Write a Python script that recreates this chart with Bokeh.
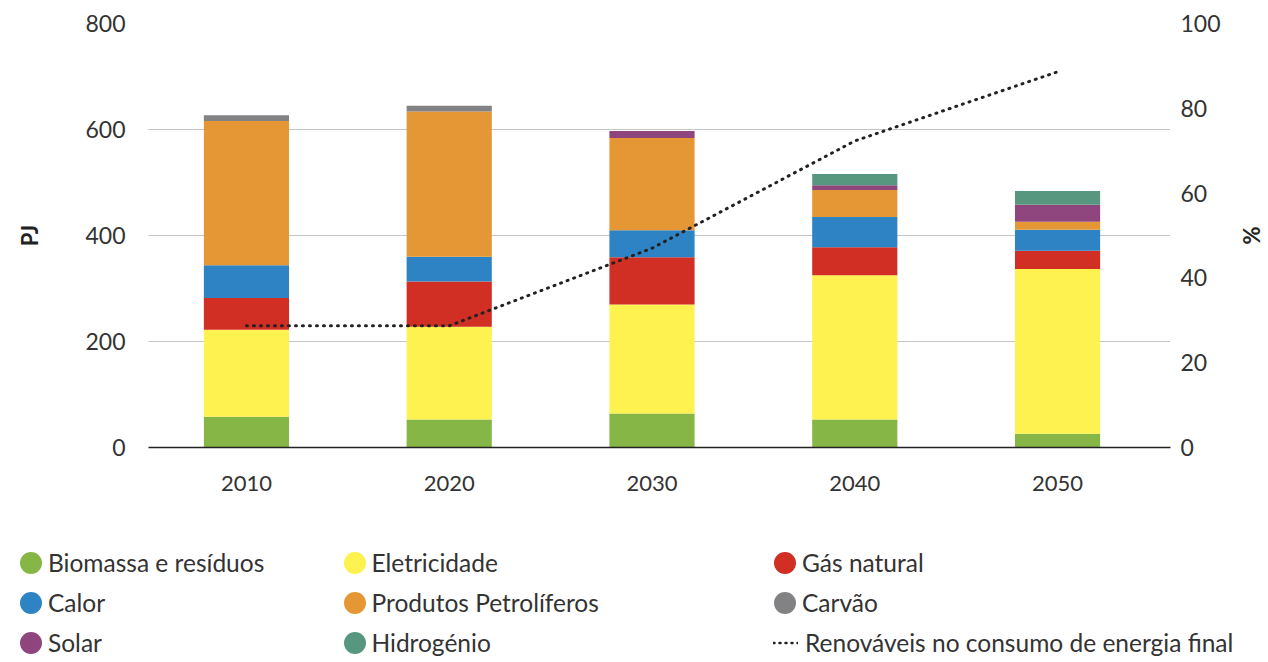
from bokeh.plotting import figure
from bokeh.layouts import column, row
from bokeh.models import (ColumnDataSource, Range1d, LinearAxis, FixedTicker,
                          Legend, LegendItem)
from bokeh.embed import file_html
from bokeh.resources import INLINE

# ---- data ----
years = [2010, 2020, 2030, 2040, 2050]
biomassa = [58, 53, 64, 53, 26]
eletricidade = [164, 175, 206, 272, 311]
gas_natural = [60, 85, 89, 53, 34]
calor = [62, 47, 51, 57, 40]
petroliferos = [272, 274, 174, 51, 15]
carvao = [11, 11, 0, 0, 0]
solar = [0, 0, 13, 9, 32]
hidrogenio = [0, 0, 0, 21, 26]
renovaveis = [28.7, 28.7, 47.0, 72.3, 88.6]

series = ["biomassa", "eletricidade", "gas_natural", "calor",
          "petroliferos", "carvao", "solar", "hidrogenio"]
labels = ["Biomassa e resíduos", "Eletricidade", "Gás natural", "Calor",
          "Produtos Petrolíferos", "Carvão", "Solar", "Hidrogénio"]
colors = ["#86b645", "#fdf24f", "#d12e24", "#2e83c4",
          "#e59735", "#828284", "#8f457d", "#57977f"]
line_label = "Renováveis no consumo de energia final"
left_ticks = [0, 200, 400, 600, 800]
right_ticks = [0, 20, 40, 60, 80, 100]

src = ColumnDataSource(dict(year=years, biomassa=biomassa, eletricidade=eletricidade,
                            gas_natural=gas_natural, calor=calor,
                            petroliferos=petroliferos, carvao=carvao, solar=solar,
                            hidrogenio=hidrogenio, renovaveis=renovaveis))

FONT = "Lato"
TXT = "#333333"
W = 1268
H1 = 515
LH = 147

p = figure(width=W, height=H1, output_backend="svg", toolbar_location=None,
           x_range=Range1d(2005.17, 2055.57), y_range=Range1d(0, 800),
           min_border_left=148, min_border_right=98, min_border_top=23,
           min_border_bottom=68)
p.outline_line_color = None

p.extra_y_ranges = {"pct": Range1d(0, 100)}

# bars
p.vbar_stack(series, x="year", width=4.2, color=colors, line_color=None, source=src)

# renewables line
p.line(x="year", y="renovaveis", y_range_name="pct", source=src,
       line_color="#222222", line_width=3, line_dash="1 6", line_cap="round")

# axes
p.xaxis.ticker = FixedTicker(ticks=years)
p.xaxis.axis_line_color = "#222222"
p.xaxis.axis_line_width = 1.5
p.xaxis.major_tick_line_color = None
p.xaxis.minor_tick_line_color = None
p.xaxis.major_tick_out = 0
p.xaxis.major_label_standoff = 28
p.xaxis.major_label_text_font = FONT
p.xaxis.major_label_text_font_size = "22px"
p.xaxis.major_label_text_color = TXT

p.yaxis.ticker = FixedTicker(ticks=left_ticks)
p.yaxis.axis_line_color = None
p.yaxis.major_tick_line_color = None
p.yaxis.minor_tick_line_color = None
p.yaxis.major_tick_out = 0
p.yaxis.major_label_standoff = 23
p.yaxis.major_label_text_font = FONT
p.yaxis.major_label_text_font_size = "23px"
p.yaxis.major_label_text_color = TXT
p.yaxis.axis_label = "PJ"
p.yaxis.axis_label_text_font = FONT
p.yaxis.axis_label_text_font_style = "bold"
p.yaxis.axis_label_text_font_size = "22px"
p.yaxis.axis_label_text_color = "#222222"
p.yaxis.axis_label_standoff = 39

ra = LinearAxis(y_range_name="pct", ticker=FixedTicker(ticks=right_ticks))
ra.axis_line_color = None
ra.major_tick_line_color = None
ra.minor_tick_line_color = None
ra.major_tick_out = 0
ra.major_label_standoff = 10
ra.major_label_text_font = FONT
ra.major_label_text_font_size = "23px"
ra.major_label_text_color = TXT
ra.axis_label = "%"
ra.axis_label_text_font = FONT
ra.axis_label_text_font_style = "bold"
ra.axis_label_text_font_size = "22px"
ra.axis_label_text_color = "#222222"
ra.axis_label_standoff = 14
p.add_layout(ra, "right")

p.xgrid.grid_line_color = None
p.ygrid.ticker = FixedTicker(ticks=left_ticks[1:])
p.ygrid.grid_line_color = "#8a8a8a"
p.ygrid.grid_line_dash = "1 1"
p.ygrid.grid_line_width = 1

# ---- legend panel (separate figure below the chart) ----
lf = figure(width=W, height=LH, output_backend="svg", toolbar_location=None,
            x_axis_location=None, y_axis_location=None,
            x_range=Range1d(0, 1), y_range=Range1d(0, 1),
            min_border=0, outline_line_color=None)
lf.grid.visible = False

nan = float("nan")
common = dict(padding=0, margin=0, spacing=5, border_line_color=None,
              background_fill_alpha=0, label_text_font=FONT,
              label_text_font_size="24.5px", label_text_color=TXT,
              label_text_baseline="middle")

GL = 35
swatch = {}
for k, c in enumerate(colors):
    swatch[k] = lf.scatter(x=[nan], y=[nan], marker="circle", size=14,
                           fill_color=c, line_color=c, line_width=8)

cols = [([0, 3, 6], 13, 2.5), ([1, 4, 7], 336.5, 2.5), ([2, 5], 767, 42.5)]
for idxs, vx, vy in cols:
    lg = Legend(items=[LegendItem(label=labels[k], renderers=[swatch[k]]) for k in idxs],
                location=(vx, vy), glyph_width=GL, glyph_height=GL,
                label_standoff=0, **common)
    lf.add_layout(lg, "center")

lr = lf.line(x=[nan, nan], y=[nan, nan], line_color="#222222", line_width=2.5,
             line_dash="1 5", line_cap="round")
lg = Legend(items=[LegendItem(label=line_label, renderers=[lr])],
            location=(773, 2.5), glyph_width=25, glyph_height=GL,
            label_standoff=7, **common)
lf.add_layout(lg, "center")

layout = column(p, row(lf), spacing=0)
open("out.html", "w").write(file_html(layout, INLINE))
